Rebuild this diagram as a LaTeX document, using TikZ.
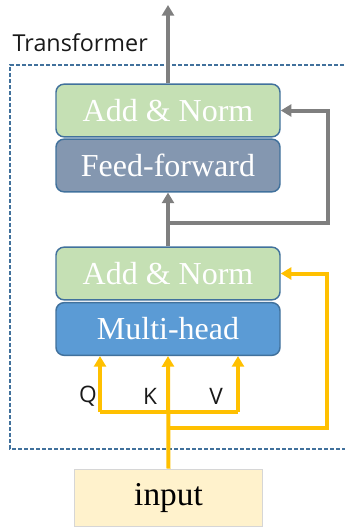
\documentclass[tikz,border=0pt]{standalone}
\usepackage{fontspec}
\setmainfont{Liberation Serif}
\newfontfamily\labelfont{Open Sans}
\usetikzlibrary{arrows.meta}
\definecolor{normgreen}{HTML}{C5E0B4}
\definecolor{ffblue}{HTML}{8497B0}
\definecolor{headblue}{HTML}{5B9BD5}
\definecolor{edgeblue}{HTML}{41719C}
\definecolor{inputfill}{HTML}{FFF2CC}
\definecolor{inputedge}{HTML}{D6D6D6}
\definecolor{flowgray}{HTML}{7F7F7F}
\definecolor{flowgold}{HTML}{FFC000}
\tikzset{
  layer/.style={draw=edgeblue, line width=1.1pt, rounded corners=6pt,
    minimum width=168pt, minimum height=39.5pt, inner sep=0pt,
    text=white, font=\fontsize{24}{27}\selectfont},
  grayflow/.style={draw=flowgray, line width=3pt},
  goldflow/.style={draw=flowgold, line width=3pt},
  qkv/.style={font=\labelfont\fontsize{17}{20}\selectfont, text=black!90}
}
\begin{document}
\begin{tikzpicture}[x=0.75pt, y=-0.75pt, >={Triangle[width=9pt,length=8pt]}]
            \useasboundingbox (0,0) rectangle (344,528);
            % frame of the block
            \draw[edgeblue, line width=1pt, dash pattern=on 3pt off 1.5pt]
                (350,65) -- (10,65) -- (10,449) -- (350,449);
            \node[anchor=west, font=\labelfont\fontsize{17.5}{20}\selectfont, text=black!90] (Title) at (8,43) {Transformer};
            \node[layer, fill=normgreen] (NormTop) at (168,110.5) {Add \& Norm};
            \node[layer, fill=ffblue] (FeedForward) at (168,165.5) {Feed-forward};
            \node[layer, fill=normgreen] (NormBottom) at (168,273.5) {Add \& Norm};
            \node[layer, fill=headblue] (MultiHead) at (168,329) {Multi-head};
            \node[draw=inputedge, line width=1pt, fill=inputfill, minimum width=141pt, minimum height=43pt,
                inner sep=0pt, font=\fontsize{25}{28}\selectfont] (Input) at (168.5,498) {input};
            % gray paths
            \coordinate (Output) at (168,5);
            \coordinate (SplitGray) at (168,223);
            \coordinate (CornerGrayLow) at (328,223);
            \coordinate (CornerGrayHigh) at (328,110.5);
            \draw[grayflow, ->] (NormTop.north) -- (Output);
            \draw[grayflow, ->] (NormBottom.north) -- (FeedForward.south);
            \draw[grayflow, ->] (SplitGray) -- (CornerGrayLow) -- (CornerGrayHigh) -- (NormTop.east);
            % gold paths
            \coordinate (BarQ) at (100,412);
            \coordinate (BarV) at (238,412);
            \coordinate (SplitGold) at (168,428);
            \coordinate (CornerGoldLow) at (327,428);
            \coordinate (CornerGoldHigh) at (327,273.5);
            \draw[goldflow, ->] (Input.north) -- (MultiHead.south);
            \draw[goldflow] (BarQ) -- (BarV);
            \draw[goldflow, ->] (BarQ) -- (BarQ |- MultiHead.south);
            \draw[goldflow, ->] (BarV) -- (BarV |- MultiHead.south);
            \draw[goldflow, ->] (SplitGold) -- (CornerGoldLow) -- (CornerGoldHigh) -- (NormBottom.east);
            \node[qkv] (LabelQ) at (88,396) {Q};
            \node[qkv] (LabelK) at (150,396) {K};
            \node[qkv] (LabelV) at (216,396) {V};
        \end{tikzpicture}
\end{document}
